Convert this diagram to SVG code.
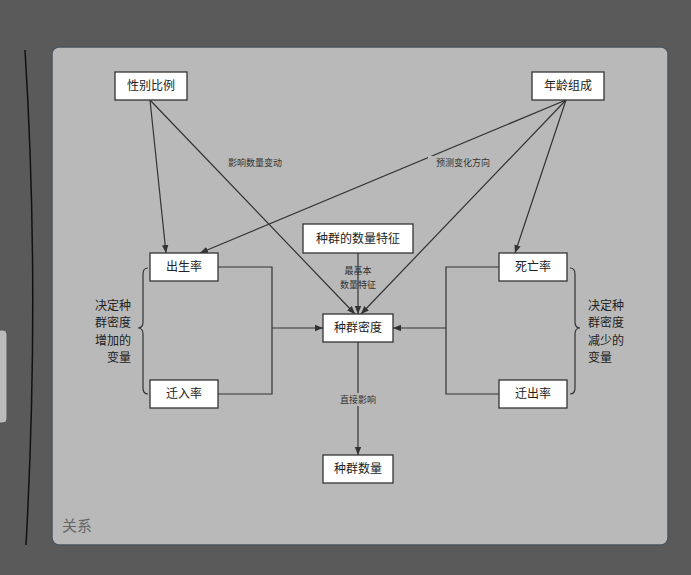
<svg xmlns="http://www.w3.org/2000/svg" width="691" height="575" viewBox="0 0 691 575">
<style>
text{font-family:"Noto Sans CJK SC","Liberation Sans",sans-serif;fill:#222}
.n rect{fill:#fff;stroke:#333;stroke-width:1.3}
.n text{font-size:12px;text-anchor:middle}
.c{stroke:#333;stroke-width:1.2;fill:none}
.l{font-size:9px;text-anchor:middle;fill:#333}
.s{font-size:12px}
</style>
<defs><marker id="a" viewBox="0 0 10 10" refX="10" refY="5" markerWidth="8" markerHeight="8" orient="auto" markerUnits="userSpaceOnUse"><path d="M0,1 L10,5 L0,9 z" fill="#333"/></marker></defs>
<rect width="691" height="575" fill="#5a5a5a"/>
<path d="M25,50 Q40,290 26,545" fill="none" stroke="#111" stroke-width="1.5"/>
<rect x="-10" y="330" width="17" height="93" rx="4" fill="#bbb" stroke="#555"/>
<rect x="52" y="47" width="616" height="498" rx="7" fill="#b9b9b9" stroke="#4a5560" stroke-width="1.5"/>
<text x="62" y="531" style="font-size:15px;fill:#666">关系</text>
<g id="connectors">
<path class="c" d="M150,100 L166,253" marker-end="url(#a)"/>
<path class="c" d="M150,100 L355,314" marker-end="url(#a)"/>
<path class="c" d="M566,100 L200,253" marker-end="url(#a)"/>
<path class="c" d="M566,100 L361,314" marker-end="url(#a)"/>
<path class="c" d="M566,100 L515,253" marker-end="url(#a)"/>
<path class="c" d="M358,253 L358,314" marker-end="url(#a)"/>
<path class="c" d="M218,267 H272 V394 H218 M272,328 H323" marker-end="url(#a)"/>
<path class="c" d="M499,267 H446 V394 H499 M446,328 H393" marker-end="url(#a)"/>
<path class="c" d="M358,342 L358,455" marker-end="url(#a)"/>
<path class="c" d="M148,268 Q143,268 143,274 V322 Q143,328 138,328 Q143,328 143,334 V388 Q143,394 148,394"/>
<path class="c" d="M570,268 Q575,268 575,274 V322 Q575,328 580,328 Q575,328 575,334 V388 Q575,394 570,394"/>
<rect x="218" y="156" width="74" height="13" fill="#b9b9b9"/>
<text class="l" x="255" y="166">影响数量变动</text>
<rect x="428" y="156" width="70" height="13" fill="#b9b9b9"/>
<text class="l" x="463" y="166">预测变化方向</text>
<text class="l" x="358" y="274">最基本</text>
<text class="l" x="358" y="288">数量特征</text>
<rect x="334" y="393" width="48" height="13" fill="#b9b9b9"/>
<text class="l" x="358" y="403">直接影响</text>
</g>
<g text-anchor="end" class="s"><text x="131" y="310">决定种</text><text x="131" y="327">群密度</text><text x="131" y="345">增加的</text><text x="131" y="362">变量</text></g>
<g class="s"><text x="588" y="310">决定种</text><text x="588" y="327">群密度</text><text x="588" y="345">减少的</text><text x="588" y="362">变量</text></g>
<g id="n1" class="n"><rect x="115" y="72" width="72" height="28"/><text x="151" y="90">性别比例</text></g>
<g id="n2" class="n"><rect x="532" y="72" width="72" height="28"/><text x="568" y="90">年龄组成</text></g>
<g id="n3" class="n"><rect x="303" y="224" width="110" height="29"/><text x="358" y="243">种群的数量特征</text></g>
<g id="n4" class="n"><rect x="150" y="253" width="68" height="28"/><text x="184" y="271">出生率</text></g>
<g id="n5" class="n"><rect x="499" y="253" width="68" height="28"/><text x="533" y="271">死亡率</text></g>
<g id="n6" class="n"><rect x="323" y="314" width="70" height="28"/><text x="358" y="332">种群密度</text></g>
<g id="n7" class="n"><rect x="150" y="380" width="68" height="28"/><text x="184" y="398">迁入率</text></g>
<g id="n8" class="n"><rect x="499" y="380" width="68" height="28"/><text x="533" y="398">迁出率</text></g>
<g id="n9" class="n"><rect x="323" y="455" width="70" height="28"/><text x="358" y="473">种群数量</text></g>
</svg>
